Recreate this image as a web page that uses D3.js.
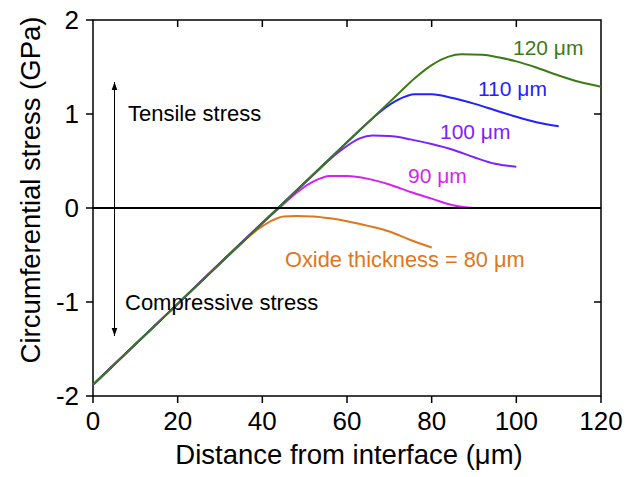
<!DOCTYPE html>
<html>
<head>
<meta charset="utf-8">
<script src="https://cdn.jsdelivr.net/npm/d3@7"></script>
<style>
  body { margin: 0; background: #fff; }
  text { font-family: Arial, "Liberation Sans", Helvetica, sans-serif; }
</style>
</head>
<body>
<div class="svg-container"></div>
<script>
var width = 641, height = 477;
var margin = {top: 20, right: 40, bottom: 81, left: 93};

// x positions (um) and stress (GPa) for each oxide thickness
var x80  = [0, 20, 34, 38, 42, 45, 48, 52, 56, 60, 65, 70, 75, 80];
var s80  = [-1.88, -1.02, -0.42, -0.26, -0.14, -0.09, -0.085, -0.09, -0.11, -0.14, -0.19, -0.25, -0.34, -0.42];
var x90  = [0, 20, 40, 44, 48, 52, 56, 60, 65, 70, 75, 80, 85, 90];
var s90  = [-1.88, -1.02, -0.16, 0.0, 0.16, 0.28, 0.34, 0.34, 0.31, 0.25, 0.17, 0.10, 0.03, 0.0];
var x100 = [0, 20, 40, 52, 56, 60, 63, 66, 70, 75, 80, 85, 90, 95, 100];
var s100 = [-1.88, -1.02, -0.16, 0.35, 0.52, 0.66, 0.74, 0.77, 0.765, 0.73, 0.68, 0.62, 0.54, 0.47, 0.44];
var x110 = [0, 20, 40, 60, 64, 68, 72, 76, 80, 85, 90, 95, 100, 105, 110];
var s110 = [-1.88, -1.02, -0.16, 0.70, 0.87, 1.03, 1.15, 1.21, 1.21, 1.17, 1.11, 1.04, 0.97, 0.91, 0.87];
var x120 = [0, 20, 40, 60, 72, 76, 80, 84, 87, 92, 96, 100, 105, 110, 115, 120];
var s120 = [-1.88, -1.02, -0.16, 0.70, 1.21, 1.38, 1.52, 1.61, 1.635, 1.63, 1.60, 1.56, 1.49, 1.41, 1.34, 1.29];

var seriesNames = ["Oxide thickness = 80 \u03bcm", "90 \u03bcm", "100 \u03bcm", "110 \u03bcm", "120 \u03bcm"];
var seriesColors = ["#e0761a", "#d71ff0", "#7b22ff", "#2222ff", "#3d7a14"];
var seriesX = [x80, x90, x100, x110, x120];
var seriesY = [s80, s90, s100, s110, s120];
var labelPos = [[285, 267], [408, 183], [440, 139], [478, 96], [513, 55]];

var xTicks = [0, 20, 40, 60, 80, 100, 120];
var yTicks = [-2, -1, 0, 1, 2];

var svg = d3.select(".svg-container").append("svg")
            .attr("width", width)
            .attr("height", height);

var x = d3.scaleLinear().domain([0, 120]).range([margin.left, width - margin.right]);
var y = d3.scaleLinear().domain([-2, 2]).range([height - margin.bottom, margin.top]);

// frame
svg.append("rect")
   .attr("x", x(0)).attr("y", y(2))
   .attr("width", x(120) - x(0)).attr("height", y(-2) - y(2))
   .attr("fill", "none").attr("stroke", "#000").attr("stroke-width", 1.5);

// ticks
svg.selectAll(".xtb").data(xTicks).enter().append("line")
   .attr("x1", d => x(d)).attr("x2", d => x(d))
   .attr("y1", y(-2)).attr("y2", y(-2) + 7)
   .attr("stroke", "#000").attr("stroke-width", 1.5);
svg.selectAll(".xtt").data(xTicks.slice(1, -1)).enter().append("line")
   .attr("x1", d => x(d)).attr("x2", d => x(d))
   .attr("y1", y(2)).attr("y2", y(2) + 7)
   .attr("stroke", "#000").attr("stroke-width", 1.5);
svg.selectAll(".ytl").data(yTicks).enter().append("line")
   .attr("x1", x(0) - 7).attr("x2", x(0))
   .attr("y1", d => y(d)).attr("y2", d => y(d))
   .attr("stroke", "#000").attr("stroke-width", 1.5);
svg.selectAll(".ytr").data(yTicks.slice(1, -1)).enter().append("line")
   .attr("x1", x(120) - 7).attr("x2", x(120))
   .attr("y1", d => y(d)).attr("y2", d => y(d))
   .attr("stroke", "#000").attr("stroke-width", 1.5);

svg.selectAll(".xl").data(xTicks).enter().append("text")
   .attr("x", d => x(d)).attr("y", y(-2) + 34)
   .attr("text-anchor", "middle").attr("font-size", 26)
   .text(d => d);
svg.selectAll(".yl").data(yTicks).enter().append("text")
   .attr("x", x(0) - 14).attr("y", d => y(d) + 9)
   .attr("text-anchor", "end").attr("font-size", 26)
   .text(d => d);

// axis titles
svg.append("text")
   .attr("x", (x(0) + x(120)) / 2 + 2).attr("y", 464)
   .attr("text-anchor", "middle").attr("font-size", 27.5)
   .text("Distance from interface (\u03bcm)");
svg.append("text")
   .attr("transform", "translate(40," + ((y(2) + y(-2)) / 2 - 18) + ") rotate(-90)")
   .attr("text-anchor", "middle").attr("font-size", 27.5)
   .text("Circumferential stress (GPa)");

// curves
var line = d3.line().curve(d3.curveMonotoneX);
seriesX.forEach(function(xs, i) {
  var pts = xs.map(function(v, j) { return [x(v), y(seriesY[i][j])]; });
  svg.append("path")
     .attr("d", line(pts))
     .attr("fill", "none")
     .attr("stroke", seriesColors[i])
     .attr("stroke-width", 2);
});

// zero line
svg.append("line")
   .attr("x1", x(0)).attr("x2", x(120))
   .attr("y1", y(0)).attr("y2", y(0))
   .attr("stroke", "#000").attr("stroke-width", 2);

// labels
seriesNames.forEach(function(n, i) {
  svg.append("text")
     .attr("x", labelPos[i][0]).attr("y", labelPos[i][1])
     .attr("font-size", i === 0 ? 21.8 : 21)
     .attr("fill", seriesColors[i])
     .text(n);
});

// double arrow
var defs = svg.append("defs");
defs.append("marker").attr("id", "ah")
    .attr("viewBox", "0 0 10 10").attr("refX", 10).attr("refY", 5)
    .attr("markerWidth", 8).attr("markerHeight", 8)
    .attr("markerUnits", "userSpaceOnUse")
    .attr("orient", "auto-start-reverse")
    .append("path").attr("d", "M0,1.5 L10,5 L0,8.5 Z").attr("fill", "#000");
svg.append("line")
   .attr("x1", 114.5).attr("x2", 114.5)
   .attr("y1", 82).attr("y2", 336)
   .attr("stroke", "#000").attr("stroke-width", 1)
   .attr("marker-start", "url(#ah)").attr("marker-end", "url(#ah)");

svg.append("text").attr("x", 128).attr("y", 121)
   .attr("font-size", 22).text("Tensile stress");
svg.append("text").attr("x", 125).attr("y", 310)
   .attr("font-size", 22).text("Compressive stress");
</script>
</body>
</html>
